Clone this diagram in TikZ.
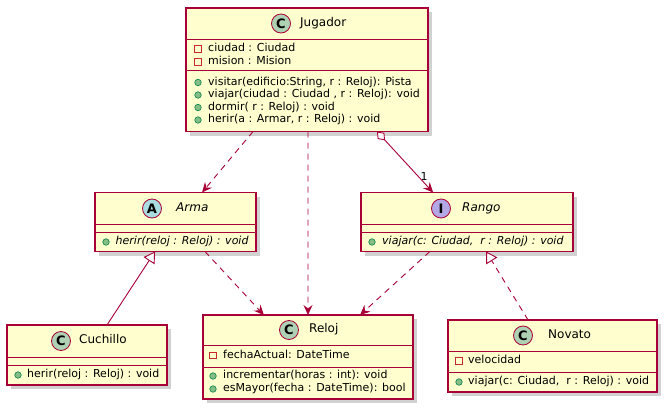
\documentclass[tikz,border=0pt]{standalone}
\usepackage{fontspec}
\setmainfont{DejaVu Sans}
\usetikzlibrary{arrows.meta,shadows,calc}
\definecolor{boxfill}{HTML}{FEFECE}
\definecolor{umlred}{HTML}{A80036}
\definecolor{cgreen}{HTML}{ADD1B2}
\definecolor{ablue}{HTML}{A9DCDF}
\definecolor{ipurple}{HTML}{B4A7E5}
\definecolor{privred}{HTML}{C82930}
\definecolor{pubfill}{HTML}{84BE84}
\definecolor{pubdraw}{HTML}{038048}
\begin{document}
\begin{tikzpicture}[x=1pt,y=-1pt,
 cls/.style={draw=umlred, fill=boxfill, line width=1.1pt, anchor=north west, inner sep=0pt, outer sep=0pt,
   drop shadow={shadow xshift=4pt, shadow yshift=-4pt, fill=black, opacity=0.18}},
 sepline/.style={draw=umlred, line width=0.9pt},
 badge/.style={circle, draw=umlred, line width=0.8pt, minimum size=19pt, inner sep=0pt, font=\fontsize{13}{13}\selectfont\bfseries},
 cname/.style={anchor=mid west, inner sep=0pt, font=\fontsize{12}{14}\selectfont},
 mem/.style={anchor=mid west, inner sep=0pt, font=\fontsize{11}{13}\selectfont},
 priv/.style={rectangle, draw=privred, line width=0.8pt, minimum size=6.5pt, inner sep=0pt},
 pub/.style={circle, draw=pubdraw, fill=pubfill, line width=0.6pt, minimum size=6.5pt, inner sep=0pt},
 conn/.style={draw=umlred, line width=0.9pt},
 dep/.style={conn, dash pattern=on 6pt off 5pt},
 head/.style={-{Stealth[length=10pt,width=9pt,inset=3.5pt]}},
 inh/.style={-{Triangle[length=11pt,width=13pt,fill=white]}},
 agg/.style={{Diamond[length=12pt,width=9pt,fill=white]}-{Stealth[length=10pt,width=9pt,inset=3.5pt]}}
]
\useasboundingbox (0,0) rectangle (670,412);

% ---------- Jugador ----------
\node[cls, minimum width=242pt, minimum height=123.5pt] (jug) at (186,8) {};
\draw[sepline] (186,39) -- (428,39);
\draw[sepline] (186,70) -- (428,70);
\node[badge, fill=cgreen] (jugC) at (281,23.5) {C};
\node[cname] (jugN) at (300,23.5) {Jugador};
\node[priv] (ja1m) at (198,49) {};
\node[mem] (ja1) at (208,49) {ciudad : Ciudad};
\node[priv] (ja2m) at (198,62) {};
\node[mem] (ja2) at (208,62) {mision : Mision};
\node[pub] (jm1m) at (198,82.5) {};
\node[mem] (jm1) at (208,82.5) {visitar(edificio:String, r : Reloj): Pista};
\node[pub] (jm2m) at (198,95) {};
\node[mem] (jm2) at (208,95) {viajar(ciudad : Ciudad , r : Reloj): void};
\node[pub] (jm3m) at (198,107.5) {};
\node[mem] (jm3) at (208,107.5) {dormir( r : Reloj) : void};
\node[pub] (jm4m) at (198,120) {};
\node[mem] (jm4) at (208,120) {herir(a : Armar, r : Reloj) : void};

% ---------- Arma ----------
\node[cls, minimum width=161pt, minimum height=59pt] (arma) at (95,192.5) {};
\draw[sepline] (95,224) -- (256,224);
\draw[sepline] (95,232.5) -- (256,232.5);
\node[badge, fill=ablue] (armaA) at (152,208.5) {A};
\node[cname] (armaN) at (176,208.5) {\itshape Arma};
\node[pub] (am1m) at (106,242) {};
\node[mem] (am1) at (115.5,242) {\itshape herir(reloj : Reloj) : void};

% ---------- Rango ----------
\node[cls, minimum width=212pt, minimum height=59pt] (rango) at (361,192.5) {};
\draw[sepline] (361,224) -- (573,224);
\draw[sepline] (361,232.5) -- (573,232.5);
\node[badge, fill=ipurple] (rangoI) at (441,208.5) {I};
\node[cname] (rangoN) at (462,208.5) {\itshape Rango};
\node[pub] (rm1m) at (372,242) {};
\node[mem] (rm1) at (382,242) {\itshape viajar(c: Ciudad,\ \ r : Reloj) : void};

% ---------- Cuchillo ----------
\node[cls, minimum width=160pt, minimum height=60pt] (cuch) at (7,325) {};
\draw[sepline] (7,357) -- (167,357);
\draw[sepline] (7,365) -- (167,365);
\node[badge, fill=cgreen] (cuchC) at (61,341) {C};
\node[cname] (cuchN) at (79,341) {Cuchillo};
\node[pub] (cm1m) at (18,375) {};
\node[mem] (cm1) at (27,375) {herir(reloj : Reloj) : void};

% ---------- Reloj ----------
\node[cls, minimum width=210pt, minimum height=84pt] (reloj) at (203,315) {};
\draw[sepline] (203,345) -- (413,345);
\draw[sepline] (203,367) -- (413,367);
\node[badge, fill=cgreen] (relojC) at (289,330) {C};
\node[cname] (relojN) at (309,330) {Reloj};
\node[priv] (ra1m) at (213,355.5) {};
\node[mem] (ra1) at (223,355.5) {fechaActual: DateTime};
\node[pub] (rem1m) at (213,376) {};
\node[mem] (rem1) at (223,376) {incrementar(horas : int): void};
\node[pub] (rem2m) at (213,389) {};
\node[mem] (rem2) at (223,389) {esMayor(fecha : DateTime): bool};

% ---------- Novato ----------
\node[cls, minimum width=209pt, minimum height=72pt] (nov) at (448,320) {};
\draw[sepline] (448,351) -- (657,351);
\draw[sepline] (448,372) -- (657,372);
\node[badge, fill=cgreen] (novC) at (523,335.5) {C};
\node[cname] (novN) at (548,335.5) {Novato};
\node[priv] (na1m) at (459,361) {};
\node[mem] (na1) at (468,361) {velocidad};
\node[pub] (nm1m) at (459,382) {};
\node[mem] (nm1) at (468,382) {viajar(c: Ciudad,\ \ r : Reloj) : void};

% ---------- connectors ----------
\draw[dep, head] ($(jug.south west)!0.277!(jug.south east)$) -- ($(arma.north west)!0.665!(arma.north east)$);
\draw[dep, head] ($(jug.south west)!0.504!(jug.south east)$) -- ($(reloj.north west)!0.5!(reloj.north east)$);
\draw[conn, agg] ($(jug.south west)!0.789!(jug.south east)$) -- ($(rango.north west)!0.34!(rango.north east)$);
\node[font=\fontsize{11}{11}\selectfont, inner sep=0pt] (mult1) at (424,176) {1};
\draw[dep, head] ($(arma.south west)!0.683!(arma.south east)$) -- ($(reloj.north west)!0.29!(reloj.north east)$);
\draw[conn, inh] ($(cuch.north west)!0.625!(cuch.north east)$) -- ($(arma.south west)!0.373!(arma.south east)$);
\draw[dep, head] ($(rango.south west)!0.325!(rango.south east)$) -- ($(reloj.north west)!0.748!(reloj.north east)$);
\draw[dep, inh] ($(nov.north west)!0.383!(nov.north east)$) -- ($(rango.south west)!0.59!(rango.south east)$);
\end{tikzpicture}
\end{document}
